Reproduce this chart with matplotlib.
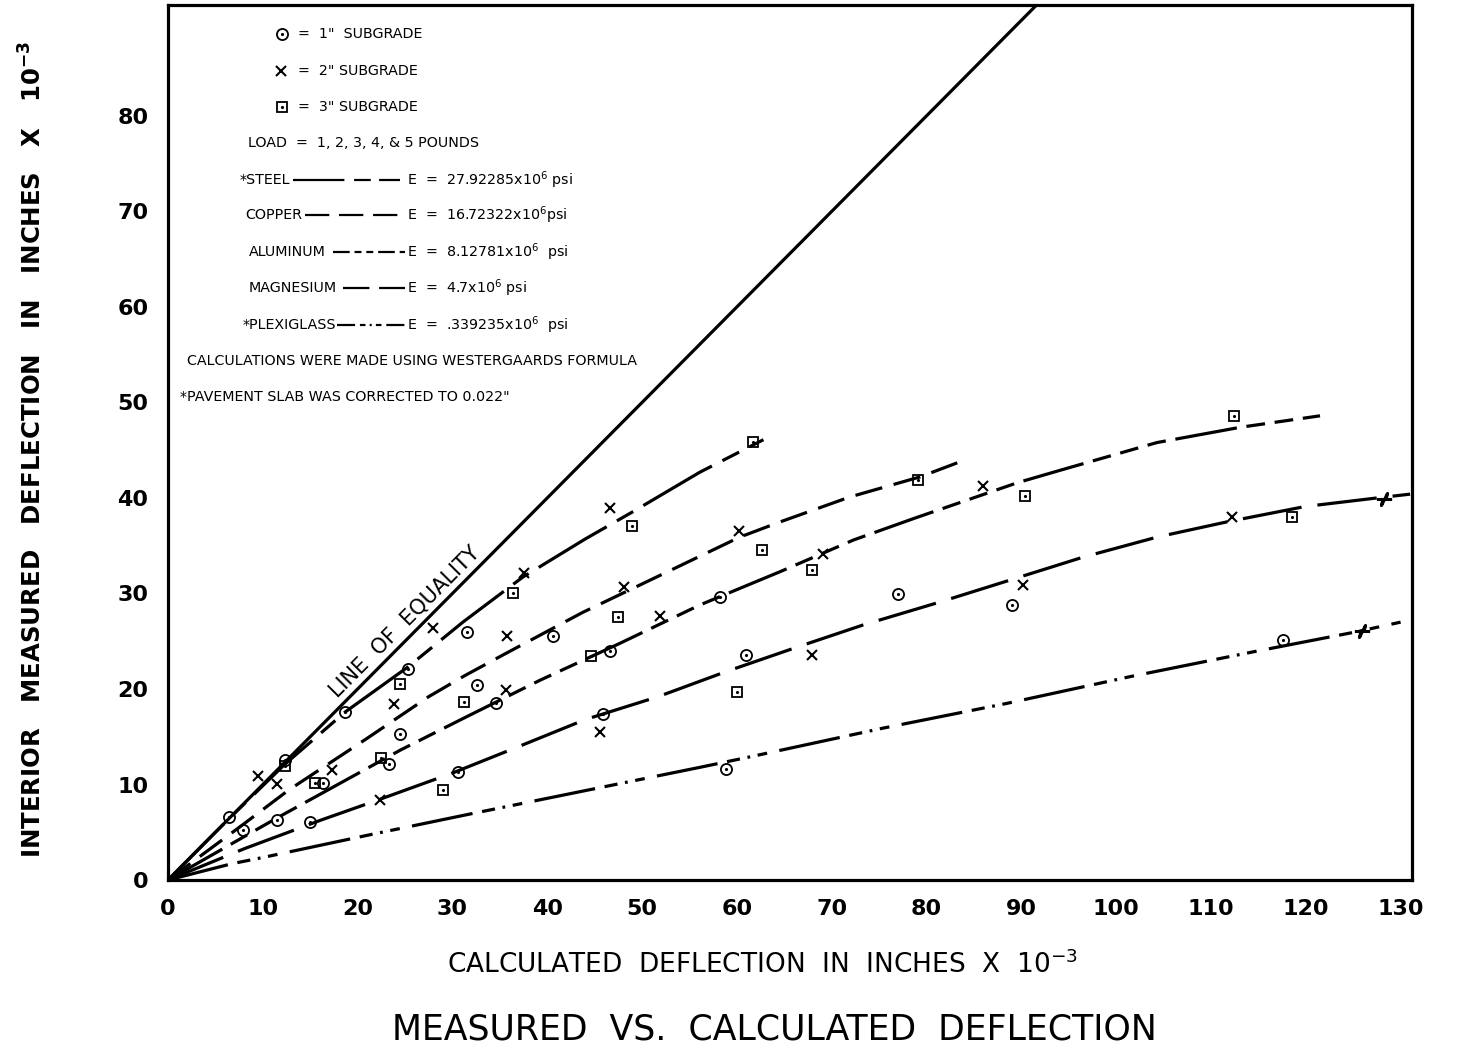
import matplotlib
matplotlib.use('Agg')
import matplotlib.pyplot as plt
from matplotlib.path import Path

plt.rcParams['font.family'] = 'DejaVu Sans'
plt.rcParams['mathtext.default'] = 'regular'
plt.rcParams['lines.scale_dashes'] = False

########################## curves ##########################
steel_x = [0, 6.0, 12.3, 18.7, 25.3, 31.1, 37.4, 44.0, 49.1, 56.1, 62.8]
steel_y = [0, 6.0, 12.1, 17.6, 22.3, 27.0, 31.7, 35.7, 38.6, 42.7, 46.1]

copper_x = [0, 7.9, 12.7, 20.8, 27.5, 31.3, 35.4, 43.7, 51.9, 60.3, 64.3, 71.9, 79.3, 83.3]
copper_y = [0, 5.8, 9.4, 14.7, 19.2, 21.4, 23.6, 28.0, 31.9, 35.9, 37.4, 40.1, 42.2, 43.7]

alum_x = [0, 11.5, 24.5, 31.3, 39.2, 47.7, 56.1, 64.6, 72.3, 78.8, 89.6, 94.1, 104.3, 113.1, 121.5]
alum_y = [0, 6.5, 13.6, 17.0, 20.9, 24.8, 28.8, 32.3, 35.6, 37.9, 41.6, 42.9, 45.8, 47.4, 48.6]

magn_x = [0, 8.1, 16.2, 22.2, 30.0, 36.8, 44.0, 51.7, 58.8, 66.1, 73.3, 81.4, 88.8, 96.5,
          104.3, 111.7, 119.9, 127.5, 131.0]
magn_y = [0, 3.3, 6.3, 8.4, 11.2, 13.9, 16.8, 19.2, 21.8, 24.3, 26.7, 29.1, 31.4, 33.8,
          35.9, 37.5, 39.1, 40.0, 40.4]

plexi_x = [0, 6.7, 10.2, 21.1, 31.3, 56.1, 61.4, 75.4, 88.5, 101.5, 114.5, 125.4, 130.0]
plexi_y = [0, 1.7, 2.4, 4.7, 6.8, 11.8, 12.9, 15.9, 18.5, 21.3, 23.9, 26.0, 27.0]

equality_x = [0, 100]
equality_y = [0, 100]

# scale break marks on the magnesium and plexiglass curves
break_x = [128.3, 125.9]
break_y = [39.9, 26.1]

########################## measured points ##########################
# 1" subgrade (circles)
sub1_x = [6.4, 7.9, 11.5, 12.3, 15.0, 16.4, 18.7, 23.3, 24.5, 25.3, 30.6, 31.5, 32.6, 34.6,
          40.6, 45.9, 46.6, 58.2, 58.9, 61.0, 77.0, 89.0, 117.6]
sub1_y = [6.6, 5.2, 6.3, 12.6, 6.1, 10.2, 17.6, 12.1, 15.3, 22.1, 11.3, 26.0, 20.4, 18.5,
          25.5, 17.4, 24.0, 29.6, 11.6, 23.6, 29.9, 28.8, 25.1]

# 2" subgrade (x)
sub2_x = [9.5, 11.5, 17.3, 22.4, 23.8, 28.0, 35.8, 35.7, 37.5, 46.6, 48.1, 51.9, 60.2, 45.6,
          69.1, 86.0, 90.2, 67.9, 112.2]
sub2_y = [10.9, 10.1, 11.5, 8.4, 18.4, 26.4, 25.5, 19.9, 32.1, 39.0, 30.7, 27.6, 36.5, 15.5,
          34.1, 41.3, 30.9, 23.6, 38.0]

# 3" subgrade (squares)
sub3_x = [12.3, 15.5, 22.5, 24.5, 29.0, 31.2, 36.4, 44.6, 47.5, 48.9, 60.0, 61.7, 62.7, 67.9,
          79.1, 90.4, 112.4, 118.5]
sub3_y = [11.9, 10.2, 12.8, 20.5, 9.4, 18.6, 30.1, 23.5, 27.5, 37.1, 19.7, 45.9, 34.5, 32.5,
          41.9, 40.2, 48.6, 38.0]

x_ticks = list(range(0, 131, 10))
y_ticks = list(range(0, 81, 10))

materials = ['*STEEL', 'COPPER', 'ALUMINUM', 'MAGNESIUM', '*PLEXIGLASS']
moduli = ['27.92285x10$^{6}$ psi', '16.72322x10$^{6}$psi', '8.12781x10$^{6}$  psi',
          '4.7x10$^{6}$ psi', '.339235x10$^{6}$  psi']

########################## styles ##########################
lw = 2.3
dash_steel = (0, (57, 8.5, 13.5, 8.5))
dash_copper = (0, (20, 8.5))
dash_alum = (0, (45, 7, 13.5, 7, 13.5, 7, 13.5, 7))
dash_magn = (0, (43, 11.5))
dash_plexi = (0, (44.5, 7, 9.5, 5.5, 2, 5.5, 7, 9))

fig = plt.figure(figsize=(14.67, 10.58), dpi=100)
ax = fig.add_axes([0.1145, 0.1682, 0.848, 0.827])

ax.plot(equality_x, equality_y, color='black', lw=lw, solid_capstyle='butt')
ax.plot(steel_x, steel_y, color='black', lw=lw, linestyle=dash_steel)
ax.plot(copper_x, copper_y, color='black', lw=lw, linestyle=dash_copper)
ax.plot(alum_x, alum_y, color='black', lw=lw, linestyle=dash_alum)
ax.plot(magn_x, magn_y, color='black', lw=lw, linestyle=dash_magn)
ax.plot(plexi_x, plexi_y, color='black', lw=lw, linestyle=dash_plexi)

# break marks
brk = Path([(-1, 0), (-0.2, 0), (-0.4, -0.8), (0.4, 0.8), (0.2, 0), (1, 0)])
ax.plot(break_x, break_y, linestyle='none', marker=brk, ms=11, mew=2.2,
        mec='black', mfc='none')

# data points
ax.plot(sub1_x, sub1_y, linestyle='none', marker='o', ms=8, mew=1.3, mec='black', mfc='none')
ax.plot(sub1_x, sub1_y, linestyle='none', marker='.', ms=2.5, color='black')
ax.plot(sub2_x, sub2_y, linestyle='none', marker='x', ms=7, mew=1.5, color='black')
ax.plot(sub3_x, sub3_y, linestyle='none', marker='s', ms=7.5, mew=1.3, mec='black', mfc='none')
ax.plot(sub3_x, sub3_y, linestyle='none', marker='.', ms=2.5, color='black')

ax.set_xlim(0, 131.2)
ax.set_ylim(0, 91.6)
ax.set_xticks(x_ticks)
ax.set_yticks(y_ticks)
ax.tick_params(length=0, labelsize=16)
ax.tick_params(axis='x', pad=14)
ax.tick_params(axis='y', pad=14)
for lab in ax.get_xticklabels() + ax.get_yticklabels():
    lab.set_fontweight('bold')
for sp in ax.spines.values():
    sp.set_linewidth(2.3)

ax.text(25.0, 27.0, 'LINE  OF  EQUALITY', rotation=45.2, ha='center', va='center',
        fontsize=15, rotation_mode='anchor')

########################## key block ##########################
fs = 10.3
t = ax.transAxes
key_sym = [('o', 0.967), ('x', 0.9246), ('s', 0.8834)]
key_txt = ['=  1"  SUBGRADE', '=  2" SUBGRADE', '=  3" SUBGRADE']
for (m, yy), txt in zip(key_sym, key_txt):
    if m == 'x':
        ax.plot([0.0908], [yy], transform=t, marker='x', ms=7, mew=1.5, color='black')
    else:
        ax.plot([0.0915], [yy], transform=t, marker=m, ms=8 if m == 'o' else 7.5, mew=1.3,
                mec='black', mfc='none')
        ax.plot([0.0915], [yy], transform=t, marker='.', ms=2.5, color='black')
    ax.text(0.1045, yy, txt, transform=t, fontsize=fs, va='center')

ax.text(0.0643, 0.8423, 'LOAD  =  1, 2, 3, 4, & 5 POUNDS', transform=t, fontsize=fs, va='center')

key_rows = [0.80, 0.76, 0.7177, 0.6766, 0.6343]
key_left = [0.0579, 0.0619, 0.0651, 0.0651, 0.0603]
key_line = [(0.1005, 0.1865), (0.1105, 0.1848), (0.1330, 0.1905), (0.1410, 0.1905), (0.1360, 0.1905)]
key_dash = [(0, (37, 7, 12, 6)), (0, (17.5, 7)), (0, (12, 3.5, 5, 3.5, 5, 3.5)),
            (0, (19, 7)), (0, (13, 3.5, 4, 3, 1.5, 3, 4, 3.5))]
for i in range(5):
    yy = key_rows[i]
    ax.text(key_left[i], yy, materials[i], transform=t, fontsize=fs, va='center')
    ax.plot(key_line[i], [yy, yy], transform=t, color='black', lw=1.6, linestyle=key_dash[i])
    ax.text(0.1925, yy, 'E  =  ' + moduli[i], transform=t, fontsize=fs, va='center')

ax.text(0.0153, 0.5931, 'CALCULATIONS WERE MADE USING WESTERGAARDS FORMULA', transform=t,
        fontsize=fs, va='center')
ax.text(0.0096, 0.552, '*PAVEMENT SLAB WAS CORRECTED TO 0.022"', transform=t,
        fontsize=fs, va='center')

########################## axis titles ##########################
fig.text(0.0225, 0.5756, 'INTERIOR   MEASURED   DEFLECTION   IN   INCHES   X   10$^{-3}$',
         rotation=90, ha='center', va='center', fontsize=17.6, fontweight='bold')
fig.text(0.5196, 0.088, 'CALCULATED  DEFLECTION  IN  INCHES  X  10$^{-3}$',
         ha='center', va='center', fontsize=19)
fig.text(0.528, 0.0265, 'MEASURED  VS.  CALCULATED  DEFLECTION',
         ha='center', va='center', fontsize=25)

fig.savefig('out.png', dpi=100)
